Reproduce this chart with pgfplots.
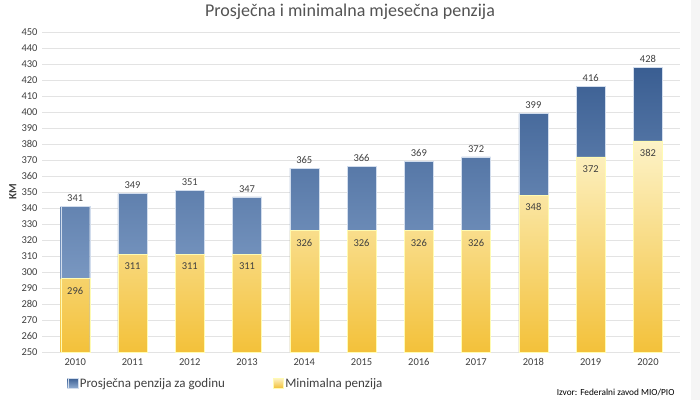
\documentclass[border=0pt]{standalone}
\usepackage{fontspec}
\setmainfont{Carlito}
\usepackage{pgfplots}
\pgfplotsset{compat=1.18}
\definecolor{blueTop}{HTML}{3A5E92}
\definecolor{blueBot}{HTML}{8FABD1}
\definecolor{yelTop}{HTML}{FDF3C8}
\definecolor{yelBot}{HTML}{F3C13A}
\definecolor{txt}{HTML}{404040}
\definecolor{gridc}{HTML}{E3E3E3}

\begin{document}
\begin{tikzpicture}[x=1pt,y=1pt]
	\path[use as bounding box, fill=white] (0,0) rectangle (700,400);
	\fill[gray!8] (691,0) rectangle (700,400);
	\begin{axis}[at={(42pt,48pt)}, anchor=south west,
		scale only axis, width=638pt, height=320pt,
		xmin=-0.58, xmax=10.56, ymin=250, ymax=450,
		xtick={0,...,10},
		xticklabels={2010,2011,2012,2013,2014,2015,2016,2017,2018,2019,2020},
		ytick={250,260,...,450},
		ymajorgrids, major grid style={gridc, line width=0.8pt},
		axis line style={draw=none}, major tick length=0pt,
		tick label style={font=\fontsize{10.5}{12}\selectfont, text=txt},
		/pgf/number format/assume math mode=true,
		ylabel={\textbf{KM}}, ylabel style={font=\fontsize{11}{13}\selectfont, text=txt, at={(-22pt,0.5)}, anchor=south},
		yticklabel style={xshift=-1pt},
		xticklabel style={yshift=-3pt},
		legend style={at={(0.035,-0.1)}, anchor=west, draw=none, fill=none,
			legend columns=2, font=\fontsize{13}{15}\selectfont, text=txt,
			/tikz/every even column/.append style={column sep=46pt}},
		legend image code/.code={\fill[#1] (0pt,-4pt) rectangle (10pt,6pt);},
		clip=false,
	]
	\addplot[ybar, bar width=29pt, bar shift=0pt, draw=blueBot!40, top color=blueTop, bottom color=blueBot,
		nodes near coords, every node near coord/.append style={font=\fontsize{10.5}{12}\selectfont, text=txt, yshift=1pt}]
		coordinates {(0,341) (1,349) (2,351) (3,347) (4,365) (5,366) (6,369) (7,372) (8,399) (9,416) (10,428)};
	\addplot[ybar, bar width=29pt, bar shift=0pt, draw=yellow!30, top color=yelTop, bottom color=yelBot,
		nodes near coords, every node near coord/.append style={font=\fontsize{10.5}{12}\selectfont, text=txt, anchor=north, yshift=-5pt}]
		coordinates {(0,296) (1,311) (2,311) (3,311) (4,326) (5,326) (6,326) (7,326) (8,348) (9,372) (10,382)};
	\legend{Prosječna penzija za godinu, Minimalna penzija}
	\end{axis}
	\node[font=\fontsize{18}{21}\selectfont, text=txt!90] at (350,388) {Prosječna i minimalna mjesečna penzija};
	\node[font=\fontsize{9.3}{11}\selectfont, anchor=east, text=black] at (678,8) {Izvor: Federalni zavod MIO/PIO};
\end{tikzpicture}
\end{document}
